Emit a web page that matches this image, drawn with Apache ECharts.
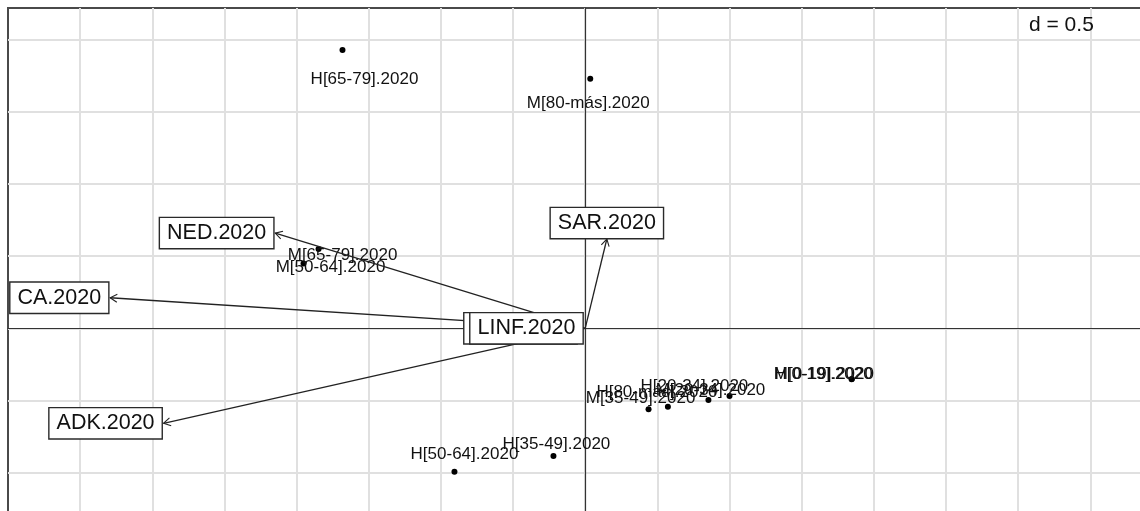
<!DOCTYPE html>
<html>
<head>
<meta charset="utf-8">
<script src="https://cdn.jsdelivr.net/npm/echarts@6/dist/echarts.min.js"></script>
<style>
  html, body { margin: 0; padding: 0; background: #fff; }
  #chart { width: 1140px; height: 511px; }
</style>
</head>
<body>
<div id="chart"></div>
<script>
// Row scores: sex / age groups
const groupNames = ['H[65-79].2020', 'M[80-más].2020', 'M[65-79].2020', 'M[50-64].2020',
  'H[35-49].2020', 'H[50-64].2020', 'H[0-19].2020', 'M[0-19].2020',
  'M[35-49].2020', 'H[80-más].2020', 'H[20-34].2020', 'M[20-34].2020'];
const groupX = [-1.682, 0.035, -1.848, -1.952, -0.220, -0.906, 1.846, 1.848, 0.439, 0.573, 0.854, 1.000];
const groupY = [1.929, 1.730, 0.550, 0.450, -0.885, -0.994, -0.352, -0.351, -0.561, -0.543, -0.497, -0.469];

// Column scores: variables drawn as arrows from the origin
const varNames = ['NED.2020', 'CA.2020', 'ADK.2020', 'SAR.2020', 'LINF.2020'];
const varX = [-2.148, -3.292, -2.922, 0.150, -0.005];
const varY = [0.660, 0.212, -0.658, 0.619, 0.000];

// Grid mesh size
const gridStep = 0.5;
const gridNote = 'd = ' + gridStep;

// Label nudges (px) so that crowded group labels stay readable
const groupLabelShift = [[22, 29], [-2, 25], [24, 6], [27, 4], [3, -12], [10, -17],
  [-28, -5], [-28, -5], [-8, -11], [-11, -14], [-14, -14], [-19, -6]];
// Variable labels framed twice
const framedTwice = ['LINF.2020'];

const FONT = '"Liberation Sans", Arial, sans-serif';
const chart = echarts.init(document.getElementById('chart'), null, { renderer: 'canvas' });

const axisCommon = {
  type: 'value',
  interval: gridStep,
  axisLabel: { show: false },
  axisTick: { show: false },
  axisLine: { show: true, onZero: true, lineStyle: { color: '#333', width: 1.2 } },
  splitLine: {
    show: true, showMinLine: false, showMaxLine: false,
    lineStyle: { color: '#e0e0e0', width: 2 }
  }
};

function boxStyle(name, align, vAlign) {
  return {
    text: name,
    font: '21.5px ' + FONT,
    fill: '#111',
    align: align,
    verticalAlign: vAlign,
    lineHeight: 22,
    backgroundColor: '#fff',
    borderColor: '#2a2a2a',
    borderWidth: 1.4,
    padding: [4, 7, 4, 7]
  };
}

chart.setOption({
  animation: false,
  grid: {
    left: 8, top: 8, width: 1154.4, height: 536.8,
    outerBoundsMode: 'none',
    containLabel: false,
    show: true, borderColor: '#4a4a4a', borderWidth: 2, backgroundColor: 'transparent'
  },
  xAxis: Object.assign({}, axisCommon, { min: -4, max: 4 }),
  yAxis: Object.assign({}, axisCommon, { min: -1.5, max: 2.22 }),
  graphic: [{
    type: 'text', left: 1029, top: 15, z: 10,
    style: { text: gridNote, font: '21px ' + FONT, fill: '#111' }
  }],
  series: [
    {
      type: 'scatter',
      z: 2,
      symbol: 'circle',
      symbolSize: 6,
      itemStyle: { color: '#000', opacity: 1 },
      label: {
        show: true, position: 'inside', formatter: '{b}',
        fontFamily: FONT, fontSize: 17, color: '#111', opacity: 1,
        textBorderWidth: 0
      },
      data: groupNames.map((n, i) => ({
        name: n,
        value: [groupX[i], groupY[i]],
        label: { offset: groupLabelShift[i] }
      }))
    },
    {
      // arrows from the origin to each variable
      type: 'custom',
      z: 3,
      clip: false,
      data: varNames.map((n, i) => [varX[i], varY[i]]),
      encode: { x: 0, y: 1 },
      renderItem(params, api) {
        const o = api.coord([0, 0]);
        const t = api.coord([api.value(0), api.value(1)]);
        const dx = t[0] - o[0], dy = t[1] - o[1];
        const len = Math.hypot(dx, dy);
        if (len < 3) return { type: 'group', children: [] };
        const ux = dx / len, uy = dy / len;
        const L = 8, a = Math.PI / 6;
        const head = ang => [
          t[0] - L * (ux * Math.cos(ang) - uy * Math.sin(ang)),
          t[1] - L * (uy * Math.cos(ang) + ux * Math.sin(ang))
        ];
        return {
          type: 'group',
          children: [
            { type: 'line', shape: { x1: o[0], y1: o[1], x2: t[0], y2: t[1] },
              style: { stroke: '#222', lineWidth: 1.3 } },
            { type: 'polyline', shape: { points: [head(a), t, head(-a)] },
              style: { stroke: '#222', lineWidth: 1.1, fill: null } }
          ]
        };
      }
    },
    {
      // boxed variable labels, placed beyond the arrow tip
      type: 'custom',
      z: 4,
      clip: false,
      data: varNames.map((n, i) => [varX[i], varY[i]]),
      encode: { x: 0, y: 1 },
      renderItem(params, api) {
        const i = params.dataIndex;
        const name = varNames[i];
        const vx = api.value(0), vy = api.value(1);
        const t = api.coord([vx, vy]);
        let px, py, align, vAlign;
        if (Math.abs(vx) >= Math.abs(vy)) {
          align = vx > 0 ? 'left' : 'right';
          vAlign = 'middle';
          px = t[0] + (vx > 0 ? 2 : -2);
          py = t[1];
        } else {
          align = 'center';
          vAlign = vy > 0 ? 'bottom' : 'top';
          px = t[0];
          py = t[1] + (vy > 0 ? -1 : 1);
        }
        const children = [];
        if (framedTwice.indexOf(name) >= 0) {
          children.push({ type: 'text', x: px - 6, y: py, style: boxStyle(name, align, vAlign) });
        }
        children.push({ type: 'text', x: px, y: py, style: boxStyle(name, align, vAlign) });
        return { type: 'group', children: children };
      }
    }
  ]
});
</script>
</body>
</html>
